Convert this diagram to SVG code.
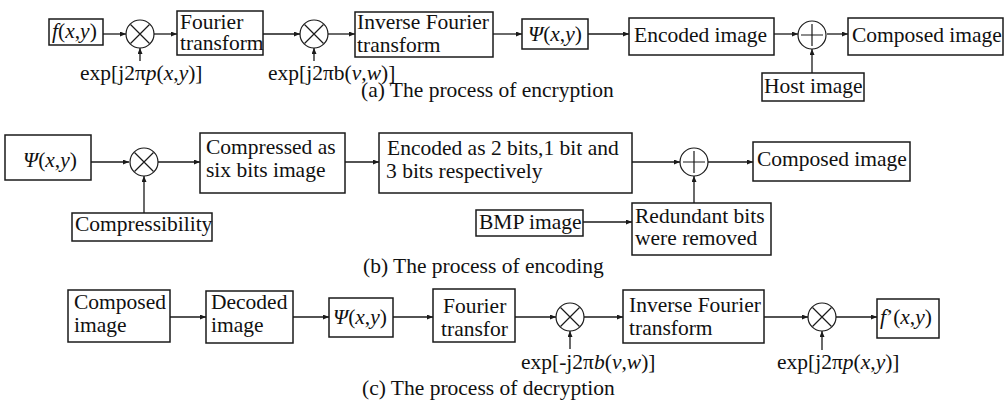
<svg xmlns="http://www.w3.org/2000/svg" width="1005" height="405" viewBox="0 0 1005 405">
<style>
.bx{fill:#fff;stroke:#1a1a1a;stroke-width:1.5}
.op{fill:#fff;stroke:#1a1a1a;stroke-width:1.2}
.sym{stroke:#1a1a1a;stroke-width:1.2;fill:none}
.ln{stroke:#1a1a1a;stroke-width:1.3;fill:none;marker-end:url(#ah)}
text{font-family:"Liberation Serif","Times New Roman",serif;font-size:21.5px;fill:#111}
.i{font-style:italic}
.m{text-anchor:middle}
</style>
<defs>
<marker id="ah" markerUnits="userSpaceOnUse" markerWidth="6" markerHeight="5" refX="6" refY="2.5" orient="auto">
<path d="M0,0 L6,2.5 L0,5 z" fill="#1a1a1a"/>
</marker>
<g id="mul"><circle r="14" class="op"/><path class="sym" d="M-9.5,-9.5 L9.5,9.5 M-9.5,9.5 L9.5,-9.5"/></g>
<g id="add"><circle r="14" class="op"/><path class="sym" d="M-11,0 L11,0 M0,-11 L0,11"/></g>
</defs>

<g id="connectors">
<path class="ln" d="M103,34 L126,34"/>
<path class="ln" d="M140,61 L140,48"/>
<path class="ln" d="M154,34 L177,34"/>
<path class="ln" d="M263,34 L300,34"/>
<path class="ln" d="M314,61 L314,48"/>
<path class="ln" d="M328,34 L355,34"/>
<path class="ln" d="M493,34 L522,34"/>
<path class="ln" d="M588,34 L629,34"/>
<path class="ln" d="M774,34 L798,34"/>
<path class="ln" d="M812,73 L812,49"/>
<path class="ln" d="M827,34 L848,34"/>

<path class="ln" d="M91,162 L129,162"/>
<path class="ln" d="M144,213 L144,176"/>
<path class="ln" d="M158,162 L200,162"/>
<path class="ln" d="M345,162 L379,162"/>
<path class="ln" d="M632,162 L680,162"/>
<path class="ln" d="M694,203 L694,176"/>
<path class="ln" d="M708,162 L753,162"/>
<path class="ln" d="M583,222 L632,222"/>

<path class="ln" d="M170,317 L206,317"/>
<path class="ln" d="M293,317 L329,317"/>
<path class="ln" d="M393,317 L433,317"/>
<path class="ln" d="M515,317 L556,317"/>
<path class="ln" d="M570,349 L570,331"/>
<path class="ln" d="M584,317 L623,317"/>
<path class="ln" d="M764,317 L808,317"/>
<path class="ln" d="M822,350 L822,331"/>
<path class="ln" d="M836,317 L877,317"/>
</g>

<!-- Row (a) -->
<g id="a_f"><rect class="bx" x="49" y="19" width="54" height="26"/><text x="52" y="38"><tspan class="i">f</tspan>(<tspan class="i">x</tspan>,<tspan class="i">y</tspan>)</text></g>
<g id="a_mul1"><use href="#mul" x="140" y="34"/></g>
<g id="a_exp1"><text x="80" y="80">exp[j2π<tspan class="i">p</tspan>(<tspan class="i">x</tspan>,<tspan class="i">y</tspan>)]</text></g>
<g id="a_ft"><rect class="bx" x="177" y="11" width="86" height="44"/><text x="180" y="29">Fourier</text><text x="180" y="50">transform</text></g>
<g id="a_mul2"><use href="#mul" x="314" y="34"/></g>
<g id="a_exp2"><text x="268" y="80">exp[j2πb(<tspan class="i">v</tspan>,<tspan class="i">w</tspan>)]</text></g>
<g id="a_ift"><rect class="bx" x="355" y="12" width="138" height="45"/><text x="357" y="29">Inverse Fourier</text><text x="357" y="52">transform</text></g>
<g id="a_psi"><rect class="bx" x="522" y="19" width="66" height="30"/><text x="528" y="41"><tspan class="i">Ψ</tspan>(<tspan class="i">x</tspan>,<tspan class="i">y</tspan>)</text></g>
<g id="a_enc"><rect class="bx" x="629" y="18" width="145" height="37"/><text x="634" y="42">Encoded image</text></g>
<g id="a_add"><use href="#add" x="812" y="35"/></g>
<g id="a_comp"><rect class="bx" x="848" y="18" width="155" height="37"/><text x="852" y="42">Composed image</text></g>
<g id="a_host"><rect class="bx" x="762" y="73" width="102" height="28"/><text x="764" y="93">Host image</text></g>
<text x="361" y="97">(a) The process of encryption</text>

<!-- Row (b) -->
<g id="b_psi"><rect class="bx" x="5" y="135" width="86" height="45"/><text x="23" y="167"><tspan class="i">Ψ</tspan>(<tspan class="i">x</tspan>,<tspan class="i">y</tspan>)</text></g>
<g id="b_mul"><use href="#mul" x="144" y="162"/></g>
<g id="b_compr"><rect class="bx" x="72" y="213" width="140" height="28"/><text x="75" y="231">Compressibility</text></g>
<g id="b_six"><rect class="bx" x="200" y="133" width="145" height="60"/><text x="206" y="154">Compressed as</text><text x="206" y="177">six bits image</text></g>
<g id="b_enc"><rect class="bx" x="379" y="133" width="253" height="60"/><text x="387" y="155">Encoded as 2 bits,1 bit and</text><text x="386" y="178">3 bits respectively</text></g>
<g id="b_add"><use href="#add" x="694" y="162"/></g>
<g id="b_comp"><rect class="bx" x="753" y="142" width="157" height="39"/><text x="757" y="166">Composed image</text></g>
<g id="b_red"><rect class="bx" x="632" y="203" width="139" height="52"/><text x="635" y="223">Redundant bits</text><text x="635" y="245">were removed</text></g>
<g id="b_bmp"><rect class="bx" x="476" y="210" width="107" height="26"/><text x="479" y="229">BMP image</text></g>
<text x="363" y="273">(b) The process of encoding</text>

<!-- Row (c) -->
<g id="c_comp"><rect class="bx" x="68" y="290" width="102" height="52"/><text x="74" y="309">Composed</text><text x="74" y="332">image</text></g>
<g id="c_dec"><rect class="bx" x="206" y="291" width="87" height="52"/><text x="211" y="309">Decoded</text><text x="211" y="332">image</text></g>
<g id="c_psi"><rect class="bx" x="329" y="298" width="64" height="39"/><text x="333" y="324"><tspan class="i">Ψ</tspan>(<tspan class="i">x</tspan>,<tspan class="i">y</tspan>)</text></g>
<g id="c_ft"><rect class="bx" x="433" y="289" width="82" height="53"/><text x="443" y="313">Fourier</text><text x="441" y="336">transfor</text></g>
<g id="c_mul1"><use href="#mul" x="570" y="317"/></g>
<g id="c_exp1"><text x="521" y="369">exp[-j2π<tspan class="i">b</tspan>(<tspan class="i">v</tspan>,<tspan class="i">w</tspan>)]</text></g>
<g id="c_ift"><rect class="bx" x="623" y="290" width="141" height="53"/><text x="629" y="312">Inverse Fourier</text><text x="629" y="335">transform</text></g>
<g id="c_mul2"><use href="#mul" x="822" y="317"/></g>
<g id="c_exp2"><text x="777" y="369">exp[j2π<tspan class="i">p</tspan>(<tspan class="i">x</tspan>,<tspan class="i">y</tspan>)]</text></g>
<g id="c_f"><rect class="bx" x="877" y="299" width="62" height="39"/><text x="880" y="324"><tspan class="i">f</tspan>’(<tspan class="i">x</tspan>,<tspan class="i">y</tspan>)</text></g>
<text x="362" y="395">(c) The process of decryption</text>
</svg>
